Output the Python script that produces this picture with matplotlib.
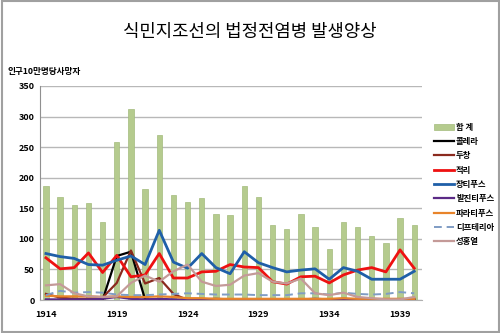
import matplotlib
matplotlib.use("Agg")
import matplotlib.pyplot as plt
import numpy as np

plt.rcParams['font.family'] = ['Noto Sans CJK KR', 'DejaVu Sans']

years = list(range(1914, 1941))
total = [187, 169, 155, 159, 128, 259, 312, 181, 270, 171, 161, 167, 141, 139, 187,
         169, 123, 116, 140, 119, 83, 127, 119, 105, 94, 134, 123]
cholera = [0, 0, 1, 0, 0, 72, 79, 1, 0, 0, 0, 0, 0, 0, 0,
           0, 0, 0, 0, 0, 0, 0, 0, 0, 0, 0, 0]
smallpox = [10, 4, 2, 2, 4, 28, 81, 27, 36, 10, 0, 1, 2, 1, 1,
            1, 1, 1, 1, 1, 1, 1, 1, 1, 1, 1, 1]
dysentery = [69, 51, 53, 77, 45, 73, 38, 41, 76, 36, 36, 46, 47, 58, 54,
             53, 30, 26, 38, 39, 28, 41, 49, 53, 46, 82, 52]
typhoid = [76, 71, 68, 58, 57, 65, 72, 58, 114, 62, 52, 76, 53, 43, 79,
           61, 53, 46, 49, 51, 34, 53, 47, 34, 34, 34, 47]
typhus = [1, 1, 1, 1, 2, 5, 2, 1, 2, 1, 1, 1, 1, 1, 1,
          1, 1, 1, 1, 2, 1, 2, 1, 1, 1, 1, 2]
paratyphoid = [7, 6, 6, 6, 5, 6, 5, 5, 6, 5, 3, 3, 2, 2, 2,
               2, 2, 2, 2, 2, 2, 3, 2, 2, 2, 2, 2]
diphtheria = [8, 15, 12, 13, 12, 9, 8, 8, 9, 10, 11, 10, 9, 9, 9,
              8, 8, 8, 11, 11, 9, 12, 10, 9, 10, 13, 11]
scarlet = [24, 26, 11, 6, 5, 6, 28, 40, 30, 47, 58, 30, 23, 25, 40,
           44, 30, 27, 35, 11, 8, 12, 5, 3, 1, 1, 5]

labels = ['합 계', '콜레라', '두창', '적리', '장티푸스', '발진티푸스', '파라티푸스', '디프테리아', '성홍열']
year_ticks = [1914, 1919, 1924, 1929, 1934, 1939]

fig = plt.figure(figsize=(5.0, 3.33), dpi=100)
fig.patch.set_facecolor('white')
fig.patches.append(plt.Rectangle((0.003, 0.003), 0.994, 0.994, transform=fig.transFigure,
                                 fill=False, edgecolor='#a0a0a0', linewidth=1.5))

ax = fig.add_axes([0.08, 0.099, 0.764, 0.643])
bars = ax.bar(years, total, width=0.38, color='#b5cb8e', edgecolor='#a3bb7c', linewidth=0.5,
              label=labels[0], zorder=2)

series = [
    (cholera, '#000000', '-', 1.6, 3),
    (smallpox, '#8b2a1e', '-', 1.6, 4),
    (dysentery, '#ee1111', '-', 2.0, 4),
    (typhoid, '#1f5fa8', '-', 2.0, 4),
    (typhus, '#5b2a86', '-', 1.6, 4),
    (paratyphoid, '#e8842a', '-', 1.6, 4),
    (diphtheria, '#7f9cc4', (0, (4, 2.5)), 1.4, 4),
    (scarlet, '#c49a98', '-', 1.6, 4),
]
handles = [bars]
for (vals, col, ls, lw, z), lab in zip(series, labels[1:]):
    ln, = ax.plot(years, vals, color=col, linestyle=ls, linewidth=lw, label=lab, zorder=z)
    handles.append(ln)

ax.set_xlim(1913.58, 1940.55)
ax.set_ylim(0, 350)
ax.set_yticks(range(0, 351, 50))
ax.set_xticks(year_ticks)
ax.yaxis.grid(True, color='#b8b8b8', linewidth=1.0, zorder=0)
ax.set_axisbelow(True)
for s in ['top', 'right']:
    ax.spines[s].set_visible(False)
ax.spines['left'].set_color('#909090')
ax.spines['bottom'].set_color('#b0b0b0')
ax.tick_params(axis='both', length=0, labelsize=6.5, pad=4)
for t in ax.get_xticklabels() + ax.get_yticklabels():
    t.set_fontweight('bold')
ax.tick_params(axis='x', pad=7)

fig.text(0.5, 0.905, '식민지조선의 법정전염병 발생양상', ha='center', va='center', fontsize=12.8)
fig.text(0.016, 0.785, '인구10만명당사망자', ha='left', va='center', fontsize=6.2, fontweight='bold')

leg = fig.legend(handles, labels, loc='upper left', bbox_to_anchor=(0.862, 0.642),
                 frameon=False, fontsize=6, handlelength=2.3, labelspacing=0.64,
                 handletextpad=0.3, borderaxespad=0)
for t in leg.get_texts():
    t.set_fontweight('bold')

fig.savefig('out.png', dpi=100)
